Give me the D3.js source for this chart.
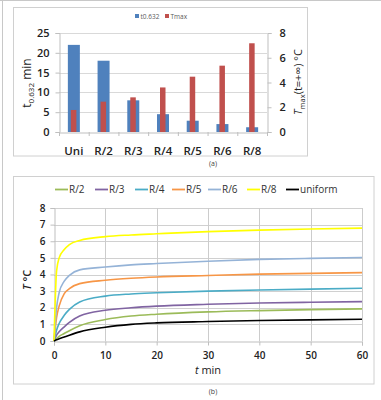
<!DOCTYPE html>
<html><head><meta charset="utf-8">
<script src="https://cdn.jsdelivr.net/npm/d3@7"></script>
<style>body{margin:0;background:#fff}svg{display:block}text{font-family:"Open Sans",sans-serif}</style>
</head><body>
<svg id="c" width="381" height="400"></svg>
<script>
// ---- data (a) ----
const cats = ["Uni","R/2","R/3","R/4","R/5","R/6","R/8"];
const t632 = [22, 18, 8, 4.5, 2.85, 2.0, 1.2];
const tmax = [1.78, 2.45, 2.8, 3.6, 4.47, 5.36, 7.17];
const leftTicks = [0,5,10,15,20,25];
const rightTicks = [0,2,4,6,8];
// ---- data (b) ----
const times = [0,0.5,1,2,3,5,10,15,20,30,40,50,60];
const sR2  = [0,0.15,0.28,0.45,0.62,0.92,1.29,1.5,1.61,1.75,1.83,1.89,1.93];
const sR3  = [0,0.35,0.55,0.85,1.12,1.5,1.85,2.0,2.1,2.21,2.29,2.33,2.37];
const sR4  = [0,0.65,1.05,1.55,1.9,2.35,2.7,2.83,2.9,3.0,3.07,3.12,3.17];
const sR5  = [0,1.4,2.1,2.85,3.15,3.45,3.65,3.77,3.85,3.94,4.02,4.07,4.11];
const sR6  = [0,2.0,2.9,3.6,3.95,4.28,4.45,4.58,4.66,4.8,4.91,4.97,5.02];
const sR8  = [0,4.2,5.0,5.5,5.8,6.05,6.28,6.38,6.45,6.58,6.67,6.74,6.79];
const sUni = [0,0.07,0.13,0.24,0.35,0.55,0.83,1.0,1.09,1.17,1.23,1.27,1.31];
const seriesNames = ["R/2","R/3","R/4","R/5","R/6","R/8","uniform"];
const seriesVals = [sR2,sR3,sR4,sR5,sR6,sR8,sUni];
const seriesColors = ["#9BBB59","#8064A2","#4BACC6","#F79646","#95B3D7","#FFFF00","#000000"];
const xTicksB = [0,10,20,30,40,50,60];
const yTicksB = [0,1,2,3,4,5,6,7,8];

const svg = d3.select("#c");
// page borders
svg.append("line").attr("x1",0).attr("x2",381).attr("y1",0.5).attr("y2",0.5).attr("stroke","#c8c8c8");
svg.append("line").attr("x1",2.5).attr("x2",2.5).attr("y1",0).attr("y2",400).attr("stroke","#c8c8c8");

// ================= chart (a) =================
svg.append("rect").attr("x",13.5).attr("y",7.5).attr("width",294).attr("height",148.5)
  .attr("fill","none").attr("stroke","#d0d0d0");
const ga = svg.append("g");
const xa = d3.scaleBand().domain(cats).range([59,267]);
const yl = d3.scaleLinear().domain([0,25]).range([132,33]);
const yr = d3.scaleLinear().domain([0,8]).range([132,33]);
// grid
ga.selectAll(".g").data(leftTicks.slice(1)).join("line")
  .attr("x1",59).attr("x2",267).attr("y1",d=>Math.round(yl(d))+0.5).attr("y2",d=>Math.round(yl(d))+0.5)
  .attr("stroke","#d9d9d9");
// bars
ga.selectAll(".b").data(cats).join("rect")
  .attr("x",d=>xa(d)+xa.bandwidth()/2-6).attr("width",12)
  .attr("y",(d,i)=>yl(t632[i])).attr("height",(d,i)=>yl(0)-yl(t632[i]))
  .attr("fill","#4F81BD");
ga.selectAll(".r").data(cats).join("rect")
  .attr("x",d=>xa(d)+xa.bandwidth()/2-3).attr("width",5.5)
  .attr("y",(d,i)=>yr(tmax[i])).attr("height",(d,i)=>yr(0)-yr(tmax[i]))
  .attr("fill","#C0504D");
// axes
const axL = ga.append("g").attr("transform","translate(59.5,0)")
  .call(d3.axisLeft(yl).tickValues(leftTicks).tickSize(4).tickPadding(6));
const axR = ga.append("g").attr("transform","translate(267.5,0)")
  .call(d3.axisRight(yr).tickValues(rightTicks).tickSize(4).tickPadding(8));
const axB = ga.append("g").attr("transform","translate(0,132.5)")
  .call(d3.axisBottom(xa).tickSize(0).tickPadding(14));
// separator ticks
ga.selectAll(".sep").data(d3.range(cats.length+1)).join("line")
  .attr("x1",i=>59.5+i*xa.step()).attr("x2",i=>59.5+i*xa.step())
  .attr("y1",132).attr("y2",136).attr("stroke","#bfbfbf");
[axL,axR,axB].forEach(a=>{
  a.select(".domain").attr("stroke","#bfbfbf");
  a.selectAll(".tick line").attr("stroke","#bfbfbf");
  a.selectAll("text").attr("font-size",11).attr("font-weight",600).attr("fill","#222");
});
axB.selectAll("text").attr("font-size",11.5);
// axis titles
const tl = ga.append("text").attr("transform","translate(31,83) rotate(-90)")
  .attr("text-anchor","middle").attr("font-size",12).attr("fill","#222");
tl.append("tspan").text("t");
tl.append("tspan").text("0.632").attr("font-size",8).attr("dy",3);
tl.append("tspan").text(" min").attr("dy",-3);
const tr = ga.append("text").attr("transform","translate(302,82) rotate(-90)")
  .attr("text-anchor","middle").attr("font-size",11).attr("fill","#222");
tr.append("tspan").text("T").attr("font-style","italic");
tr.append("tspan").text("max").attr("font-size",7.5).attr("dy",3);
tr.append("tspan").text("(t=+∞)  °C").attr("dy",-3);
// legend
const la = ga.append("g");
la.append("rect").attr("x",135).attr("y",14).attr("width",4).attr("height",4).attr("fill","#4F81BD");
la.append("text").attr("x",140.5).attr("y",18.5).attr("font-size",6.5).attr("fill","#595959").text("t0.632");
la.append("rect").attr("x",165).attr("y",14).attr("width",4).attr("height",4).attr("fill","#C0504D");
la.append("text").attr("x",170.5).attr("y",18.5).attr("font-size",6.5).attr("fill","#595959").text("Tmax");
svg.append("text").attr("x",213).attr("y",166).attr("text-anchor","middle").attr("font-size",7)
  .attr("fill","#444").attr("font-family","DejaVu Serif").text("(a)");

// ================= chart (b) =================
svg.append("rect").attr("x",13.5).attr("y",176.5).attr("width",360.5).attr("height",207.5)
  .attr("fill","none").attr("stroke","#d0d0d0");
const gb = svg.append("g");
const xb = d3.scaleLinear().domain([0,60]).range([54,362]);
const yb = d3.scaleLinear().domain([0,8]).range([341,208]);
gb.selectAll(".hg").data(yTicksB.slice(1)).join("line")
  .attr("x1",54).attr("x2",362).attr("y1",d=>Math.round(yb(d))+0.5).attr("y2",d=>Math.round(yb(d))+0.5)
  .attr("stroke","#d0d0d0");
gb.selectAll(".vg").data(xTicksB.slice(1)).join("line")
  .attr("x1",d=>Math.round(xb(d))+0.5).attr("x2",d=>Math.round(xb(d))+0.5).attr("y1",208).attr("y2",341)
  .attr("stroke","#cccccc");
const axBL = gb.append("g").attr("transform","translate(54.5,0)")
  .call(d3.axisLeft(yb).tickValues(yTicksB).tickSize(4).tickPadding(5));
const axBB = gb.append("g").attr("transform","translate(0,341.5)")
  .call(d3.axisBottom(xb).tickValues(xTicksB).tickSize(4).tickPadding(6));
[axBL,axBB].forEach(a=>{
  a.select(".domain").attr("stroke","#bfbfbf");
  a.selectAll(".tick line").attr("stroke","#bfbfbf");
  a.selectAll("text").attr("font-size",10).attr("font-weight",600).attr("fill","#222");
});
const line = d3.line().x((d,i)=>xb(times[i])).y(d=>yb(d)).curve(d3.curveMonotoneX);
seriesVals.forEach((s,k)=>{
  gb.append("path").datum(s).attr("d",line).attr("fill","none")
    .attr("stroke",seriesColors[k]).attr("stroke-width",1.6);
});
// titles
const ty = gb.append("text").attr("transform","translate(31,280) rotate(-90)")
  .attr("text-anchor","middle").attr("font-size",11).attr("font-weight",600).attr("fill","#222");
ty.append("tspan").text("T").attr("font-style","italic");
ty.append("tspan").text(" °C");
const tx = gb.append("text").attr("x",208).attr("y",374).attr("text-anchor","middle")
  .attr("font-size",11).attr("fill","#222");
tx.append("tspan").text("t").attr("font-style","italic");
tx.append("tspan").text(" min");
// legend
const legX = [55,95,135,172,208,247,286];
seriesNames.forEach((n,k)=>{
  gb.append("line").attr("x1",legX[k]).attr("x2",legX[k]+13).attr("y1",189.5).attr("y2",189.5)
    .attr("stroke",seriesColors[k]).attr("stroke-width",1.8);
  gb.append("text").attr("x",legX[k]+14).attr("y",193).attr("font-size",10).attr("fill","#333").text(n);
});
svg.append("text").attr("x",213).attr("y",394).attr("text-anchor","middle").attr("font-size",7)
  .attr("fill","#444").attr("font-family","DejaVu Serif").text("(b)");
</script>
</body></html>
